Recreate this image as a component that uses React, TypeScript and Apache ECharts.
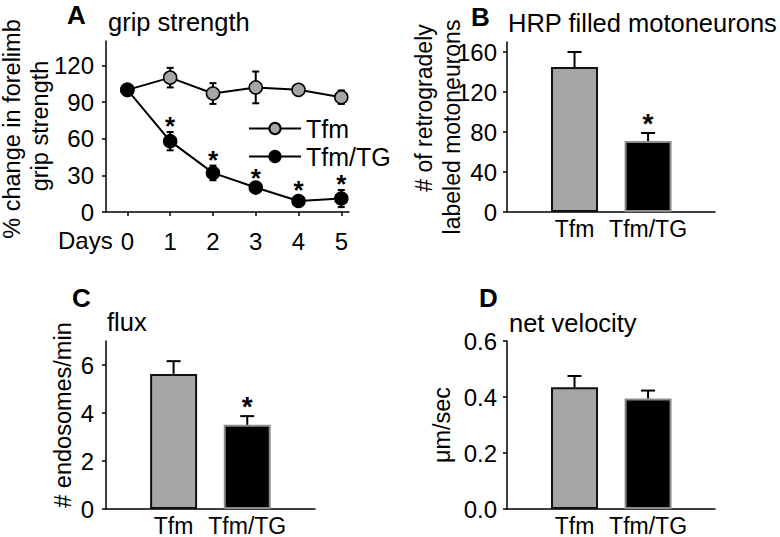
import React, { useEffect, useRef } from "react";
import * as echarts from "echarts";

// ---- Panel A: grip strength ----
const days = [0, 1, 2, 3, 4, 5];
const tfmGrip = [100, 110, 97, 102, 100, 94];
const tfmGripErr = [0, 8, 8.5, 13, 4, 5.5];
const tgGrip = [100, 58, 32, 20, 9, 11];
const tgGripErr = [0, 7.5, 6, 3, 4, 7];
const tgGripSig = [0, 1, 1, 1, 1, 1];
const tfmGripSig = [0, 0, 0, 0, 0, 0];
const gripTicks = [0, 30, 60, 90, 120];

// ---- Bar panels ----
const groups = ["Tfm", "Tfm/TG"];
const groupPos = [1, 2];

const hrpValues = [145, 71];
const hrpErr = [15, 8];
const hrpSig = [0, 1];
const hrpTicks = [0, 40, 80, 120, 160];

const fluxValues = [5.63, 3.51];
const fluxErr = [0.53, 0.36];
const fluxSig = [0, 1];
const fluxTicks = [0, 2, 4, 6];

const velValues = [0.435, 0.395];
const velErr = [0.04, 0.028];
const velSig = [0, 0];
const velTicks = [0, 0.2, 0.4, 0.6];

const FONT = "'Liberation Sans', Arial, Helvetica, sans-serif";
const GRAY = "#a6a6a6";

function errSeries(
  xIdx: number,
  xs: number[],
  ys: number[],
  errs: number[],
  sig: number[],
  both: boolean,
  capHalf: number,
  starOffset: number,
  starSize: number,
  z: number
) {
  return {
    type: "custom",
    xAxisIndex: xIdx,
    yAxisIndex: xIdx,
    z,
    silent: true,
    encode: { x: 0, y: 1 },
    data: xs.map((x, i) => [x, ys[i], errs[i], sig[i]]),
    renderItem: (_params: any, api: any) => {
      const x = api.value(0);
      const y = api.value(1);
      const e = api.value(2);
      const s = api.value(3);
      const top = api.coord([x, y + e]);
      const bot = api.coord([x, both ? y - e : y]);
      const ls = { stroke: "#000", lineWidth: 2 };
      const children: any[] = [];
      if (e > 0) {
        children.push({ type: "line", shape: { x1: top[0], y1: top[1], x2: bot[0], y2: bot[1] }, style: ls });
        children.push({ type: "line", shape: { x1: top[0] - capHalf, y1: top[1], x2: top[0] + capHalf, y2: top[1] }, style: ls });
        if (both) {
          children.push({ type: "line", shape: { x1: bot[0] - capHalf, y1: bot[1], x2: bot[0] + capHalf, y2: bot[1] }, style: ls });
        }
      }
      if (s) {
        children.push({
          type: "text",
          x: top[0],
          y: top[1] - starOffset,
          style: {
            text: "*",
            fontSize: starSize,
            fontWeight: "bold",
            fontFamily: FONT,
            fill: "#000",
            align: "center",
            verticalAlign: "middle",
          },
        });
      }
      return { type: "group", children };
    },
  };
}

function barSeries(idx: number, values: number[]) {
  const styles = [
    { color: GRAY, borderColor: "#111", borderWidth: 2 },
    { color: "#000", borderColor: "#8c8c8c", borderWidth: 2 },
  ];
  return {
    type: "bar",
    xAxisIndex: idx,
    yAxisIndex: idx,
    barWidth: 47,
    z: 2,
    data: values.map((v, i) => ({ value: [groupPos[i], v], itemStyle: styles[i] })),
  };
}

const axisLineStyle = { color: "#000", width: 1.5 };

function yAxis(idx: number, max: number, ticks: number[], margin: number, decimals: number) {
  return {
    gridIndex: idx,
    type: "value",
    min: 0,
    max,
    axisLine: { show: true, onZero: false, lineStyle: axisLineStyle },
    axisTick: { show: true, customValues: ticks, length: 4, lineStyle: axisLineStyle },
    axisLabel: {
      customValues: ticks,
      margin,
      fontSize: 24,
      fontFamily: FONT,
      color: "#000",
      formatter: (v: number) => v.toFixed(decimals),
    },
    splitLine: { show: false },
  };
}

function barXAxis(idx: number, max: number) {
  return {
    gridIndex: idx,
    type: "value",
    min: 0.082,
    max,
    axisLine: { show: true, onZero: false, lineStyle: axisLineStyle },
    axisTick: { show: false },
    axisLabel: {
      customValues: groupPos,
      margin: 5,
      fontSize: 23,
      fontFamily: FONT,
      color: "#000",
      formatter: (v: number) => groups[Math.round(v) - 1] ?? "",
    },
    splitLine: { show: false },
  };
}

function txt(text: string, x: number, y: number, size: number, opts: any = {}) {
  return {
    type: "text",
    x,
    y,
    rotation: opts.rotation ?? 0,
    style: {
      text,
      fontSize: size,
      fontFamily: FONT,
      fontWeight: opts.bold ? "bold" : "normal",
      fill: "#000",
      align: opts.align ?? "left",
      verticalAlign: "middle",
    },
  };
}

export default function App() {
  const ref = useRef<HTMLDivElement>(null);

  useEffect(() => {
    if (!ref.current) return;
    const chart = echarts.init(ref.current, undefined, { renderer: "svg" });
    const R = Math.PI / 2;
    const option: any = {
      animation: false,
      backgroundColor: "#fff",
      grid: [
        { left: 106, top: 41, width: 243, height: 171 },
        { left: 507, top: 42, width: 208, height: 170 },
        { left: 106, top: 341, width: 209, height: 170 },
        { left: 507, top: 341, width: 208, height: 170 },
      ],
      xAxis: [
        {
          gridIndex: 0,
          type: "value",
          min: -0.5,
          max: 5.18,
          axisLine: { show: true, onZero: false, lineStyle: axisLineStyle },
          axisTick: { show: true, customValues: days, length: 4, lineStyle: axisLineStyle },
          axisLabel: { customValues: days, margin: 17, fontSize: 24, fontFamily: FONT, color: "#000" },
          splitLine: { show: false },
        },
        barXAxis(1, 2.91),
        barXAxis(2, 2.92),
        barXAxis(3, 2.91),
      ],
      yAxis: [
        yAxis(0, 140, gripTicks, 12, 0),
        yAxis(1, 170, hrpTicks, 10, 0),
        yAxis(2, 7, fluxTicks, 12, 0),
        yAxis(3, 0.6, velTicks, 10, 1),
      ],
      legend: {
        left: 243,
        top: 111,
        orient: "vertical",
        itemWidth: 52,
        itemHeight: 14,
        itemGap: 3,
        textStyle: { fontSize: 25, fontFamily: FONT, color: "#000" },
        data: ["Tfm", "Tfm/TG"],
      },
      series: [
        errSeries(0, days, tfmGrip, tfmGripErr, tfmGripSig, true, 3.5, 7, 26, 1),
        errSeries(0, days, tgGrip, tgGripErr, tgGripSig, true, 3.5, 6, 26, 1),
        {
          type: "line",
          name: "Tfm",
          xAxisIndex: 0,
          yAxisIndex: 0,
          data: days.map((d, i) => [d, tfmGrip[i]]),
          symbol: "circle",
          symbolSize: 13,
          lineStyle: { color: "#000", width: 2 },
          itemStyle: { color: GRAY, borderColor: "#000", borderWidth: 1.5 },
          z: 3,
        },
        {
          type: "line",
          name: "Tfm/TG",
          xAxisIndex: 0,
          yAxisIndex: 0,
          data: days.map((d, i) => [d, tgGrip[i]]),
          symbol: "circle",
          symbolSize: 13,
          lineStyle: { color: "#000", width: 2 },
          itemStyle: { color: "#000", borderColor: "#000", borderWidth: 1.5 },
          z: 4,
        },
        barSeries(1, hrpValues),
        errSeries(1, groupPos, hrpValues, hrpErr, hrpSig, false, 7, 10, 28, 3),
        barSeries(2, fluxValues),
        errSeries(2, groupPos, fluxValues, fluxErr, fluxSig, false, 7, 10, 28, 3),
        barSeries(3, velValues),
        errSeries(3, groupPos, velValues, velErr, velSig, false, 7, 10, 28, 3),
      ],
      graphic: [
        txt("A", 67, 15, 26, { bold: true }),
        txt("grip strength", 108, 22, 25.5),
        txt("B", 471, 17, 26, { bold: true }),
        txt("HRP filled motoneurons", 508, 23, 25.5),
        txt("C", 72, 298, 26, { bold: true }),
        txt("flux", 107, 322, 25.5),
        txt("D", 479, 298, 26, { bold: true }),
        txt("net velocity", 509, 323, 25.5),
        txt("Days", 58, 240, 24),
        txt("% change in forelimb", 12, 129, 23.5, { rotation: R, align: "center" }),
        txt("grip strength", 40, 126, 23.5, { rotation: R, align: "center" }),
        txt("# of retrogradely", 424, 108, 23, { rotation: R, align: "center" }),
        txt("labeled motoneurons", 452, 127, 23, { rotation: R, align: "center" }),
        txt("# endosomes/min", 63, 415, 23.5, { rotation: R, align: "center" }),
        txt("μm/sec", 442, 425, 23.5, { rotation: R, align: "center" }),
      ],
    };
    chart.setOption(option);
    return () => chart.dispose();
  }, []);

  return (
    <div
      ref={ref}
      style={{ position: "fixed", left: 0, top: 0, width: 780, height: 537, background: "#fff" }}
    />
  );
}
